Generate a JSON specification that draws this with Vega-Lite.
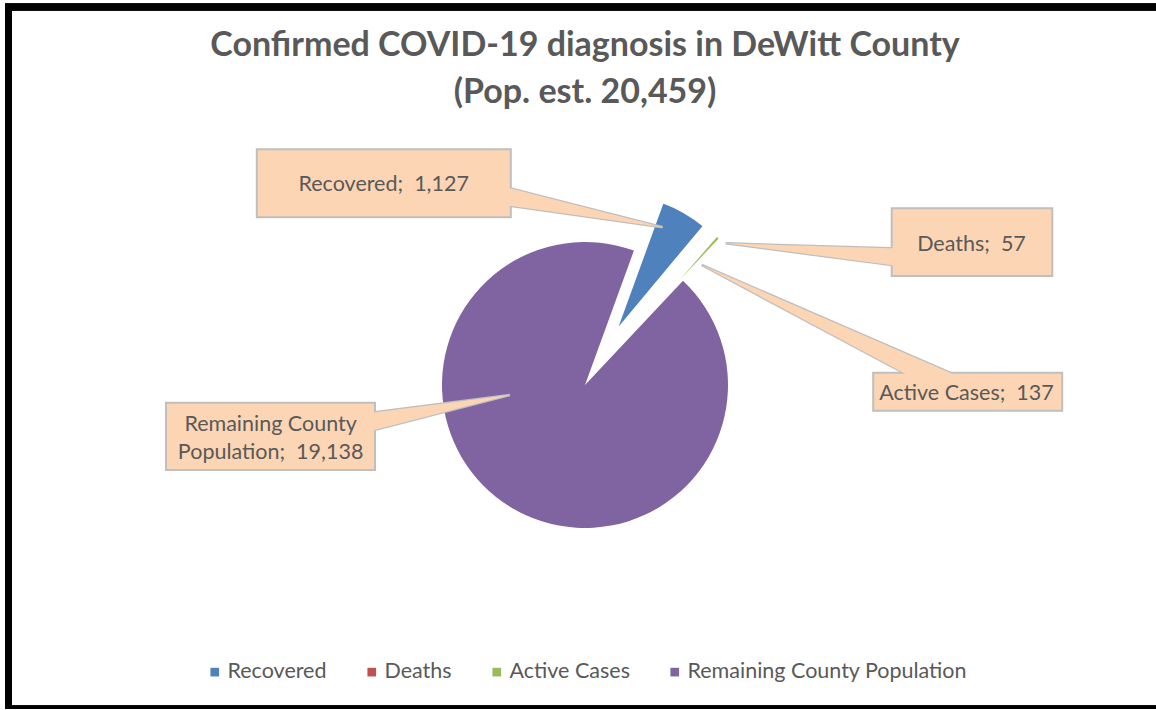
{
  "$schema": "https://vega.github.io/schema/vega-lite/v6.json",
  "width": 1153,
  "height": 702,
  "autosize": {"type": "none"},
  "padding": {"left": 8.5, "top": 7, "right": 0, "bottom": 0},
  "background": "white",
  "config": {"view": {"stroke": null}, "font": "Lato"},
  "title": {
    "text": ["Confirmed COVID-19 diagnosis in DeWitt County", "(Pop. est. 20,459)"],
    "font": "Lato",
    "fontSize": 34,
    "fontWeight": "bold",
    "color": "#595959",
    "lineHeight": 47,
    "anchor": "middle",
    "frame": "group",
    "baseline": "alphabetic",
    "offset": -133
  },
  "data": {
    "values": [
      {"category": "Recovered", "value": 1127},
      {"category": "Deaths", "value": 57},
      {"category": "Active Cases", "value": 137},
      {"category": "Remaining County Population", "value": 19138}
    ]
  },
  "transform": [{"stack": "value", "groupby": [], "as": ["v0", "v1"]}],
  "layer": [
    {
      "mark": {
        "type": "arc",
        "radius": 143,
        "stroke": "white",
        "xOffset": {"expr": "(datum.category === 'Remaining County Population' ? 0 : 57) * sin(0.349066 + PI * (datum.v0 + datum.v1) / 20459)"},
        "yOffset": {"expr": "27 - (datum.category === 'Remaining County Population' ? 0 : 57) * cos(0.349066 + PI * (datum.v0 + datum.v1) / 20459)"}
      },
      "encoding": {
        "theta": {"field": "v0", "type": "quantitative", "scale": {"domain": [0, 20459], "range": [0.349066, 6.632251]}},
        "theta2": {"field": "v1"},
        "strokeWidth": {"condition": {"test": "datum.category === 'Remaining County Population'", "value": 0}, "value": 3.6},
        "color": {
          "field": "category",
          "type": "nominal",
          "scale": {
            "domain": ["Recovered", "Deaths", "Active Cases", "Remaining County Population"],
            "range": ["#4F81BD", "#C0504D", "#9BBB59", "#8064A2"]
          },
          "legend": {
            "title": null,
            "orient": "none",
            "direction": "horizontal",
            "legendX": 195.5,
            "legendY": 654,
            "symbolType": "square",
            "symbolSize": 75,
            "symbolStrokeWidth": 0,
            "symbolOpacity": 1,
            "labelFont": "Lato",
            "labelFontSize": 21.5,
            "labelColor": "#595959",
            "labelOffset": 2,
            "columnPadding": 34,
            "padding": 0,
            "labelLimit": 0
          }
        }
      }
    },
    {
      "transform": [{"filter": "datum.category === 'Recovered'"}],
      "layer": [
        {"mark": {"type": "arc", "theta": 4.8529, "theta2": 4.9625, "radius": 172, "fill": "#FCD5B5", "stroke": "#BFBFBF", "strokeWidth": 2.5, "xOffset": 77.7, "yOffset": -130.7}},
        {"mark": {"type": "point", "shape": "M-1,-0.2677L1,-0.2677L1,0.2677L-1,0.2677Z", "size": 64516, "filled": true, "fill": "#FCD5B5", "stroke": "#BFBFBF", "strokeWidth": 2, "opacity": 1, "xOffset": -201.2, "yOffset": -174.7}},
        {"mark": {"type": "arc", "theta": 4.8529, "theta2": 4.9625, "radius": 172, "fill": "#FCD5B5", "strokeWidth": 0, "xOffset": 77.7, "yOffset": -130.7}},
        {"mark": {"type": "text", "text": {"expr": "datum.category + ';\u00a0 ' + format(datum.value, ',')"}, "font": "Lato", "fontSize": 21.5, "fill": "#595959", "align": "center", "baseline": "alphabetic", "xOffset": -201.3, "yOffset": -167}}
      ]
    },
    {
      "transform": [{"filter": "datum.category === 'Deaths'"}],
      "layer": [
        {"mark": {"type": "arc", "theta": 1.601, "theta2": 1.7012, "radius": 180, "fill": "#FCD5B5", "stroke": "#BFBFBF", "strokeWidth": 2.5, "xOffset": 140.7, "yOffset": -114.7}},
        {"mark": {"type": "point", "shape": "M-1,-0.4215L1,-0.4215L1,0.4215L-1,0.4215Z", "size": 25792, "filled": true, "fill": "#FCD5B5", "stroke": "#BFBFBF", "strokeWidth": 2, "opacity": 1, "xOffset": 387, "yOffset": -115.8}},
        {"mark": {"type": "arc", "theta": 1.601, "theta2": 1.7012, "radius": 180, "fill": "#FCD5B5", "strokeWidth": 0, "xOffset": 140.7, "yOffset": -114.7}},
        {"mark": {"type": "text", "text": {"expr": "datum.category + ';\u00a0 ' + format(datum.value, ',')"}, "font": "Lato", "fontSize": 21.5, "fill": "#595959", "align": "center", "baseline": "alphabetic", "xOffset": 386.5, "yOffset": -107.3}}
      ]
    },
    {
      "transform": [{"filter": "datum.category === 'Active Cases'"}],
      "layer": [
        {"mark": {"type": "arc", "theta": 1.9801, "theta2": 2.0614, "radius": 280, "fill": "#FCD5B5", "stroke": "#BFBFBF", "strokeWidth": 2.5, "xOffset": 116.7, "yOffset": -93}},
        {"mark": {"type": "point", "shape": "M-1,-0.2011L1,-0.2011L1,0.2011L-1,0.2011Z", "size": 35721, "filled": true, "fill": "#FCD5B5", "stroke": "#BFBFBF", "strokeWidth": 2, "opacity": 1, "xOffset": 382.7, "yOffset": 33.7}},
        {"mark": {"type": "arc", "theta": 1.9801, "theta2": 2.0614, "radius": 280, "fill": "#FCD5B5", "strokeWidth": 0, "xOffset": 116.7, "yOffset": -93}},
        {"mark": {"type": "text", "text": {"expr": "datum.category + ';\u00a0 ' + format(datum.value, ',')"}, "font": "Lato", "fontSize": 21.5, "fill": "#595959", "align": "center", "baseline": "alphabetic", "xOffset": 381.5, "yOffset": 42}}
      ]
    },
    {
      "transform": [{"filter": "datum.category === 'Remaining County Population'"}],
      "layer": [
        {"mark": {"type": "arc", "theta": 4.4593, "theta2": 4.585, "radius": 155, "fill": "#FCD5B5", "stroke": "#BFBFBF", "strokeWidth": 2.5, "xOffset": -75, "yOffset": 37}},
        {"mark": {"type": "point", "shape": "M-1,-0.322L1,-0.322L1,0.322L-1,0.322Z", "size": 43681, "filled": true, "fill": "#FCD5B5", "stroke": "#BFBFBF", "strokeWidth": 2, "opacity": 1, "xOffset": -314.5, "yOffset": 78.3}},
        {"mark": {"type": "arc", "theta": 4.4593, "theta2": 4.585, "radius": 155, "fill": "#FCD5B5", "strokeWidth": 0, "xOffset": -75, "yOffset": 37}},
        {"mark": {"type": "text", "text": {"expr": "[substring(datum.category, 0, lastindexof(datum.category, ' ')), substring(datum.category, lastindexof(datum.category, ' ') + 1) + ';\u00a0 ' + format(datum.value, ',')]"}, "font": "Lato", "fontSize": 21.5, "lineHeight": 28.3, "fill": "#595959", "align": "center", "baseline": "alphabetic", "xOffset": -314.4, "yOffset": 73}}
      ]
    },
    {
      "mark": {"type": "rect", "fill": "transparent", "stroke": "black", "strokeWidth": 7}
    }
  ]
}
